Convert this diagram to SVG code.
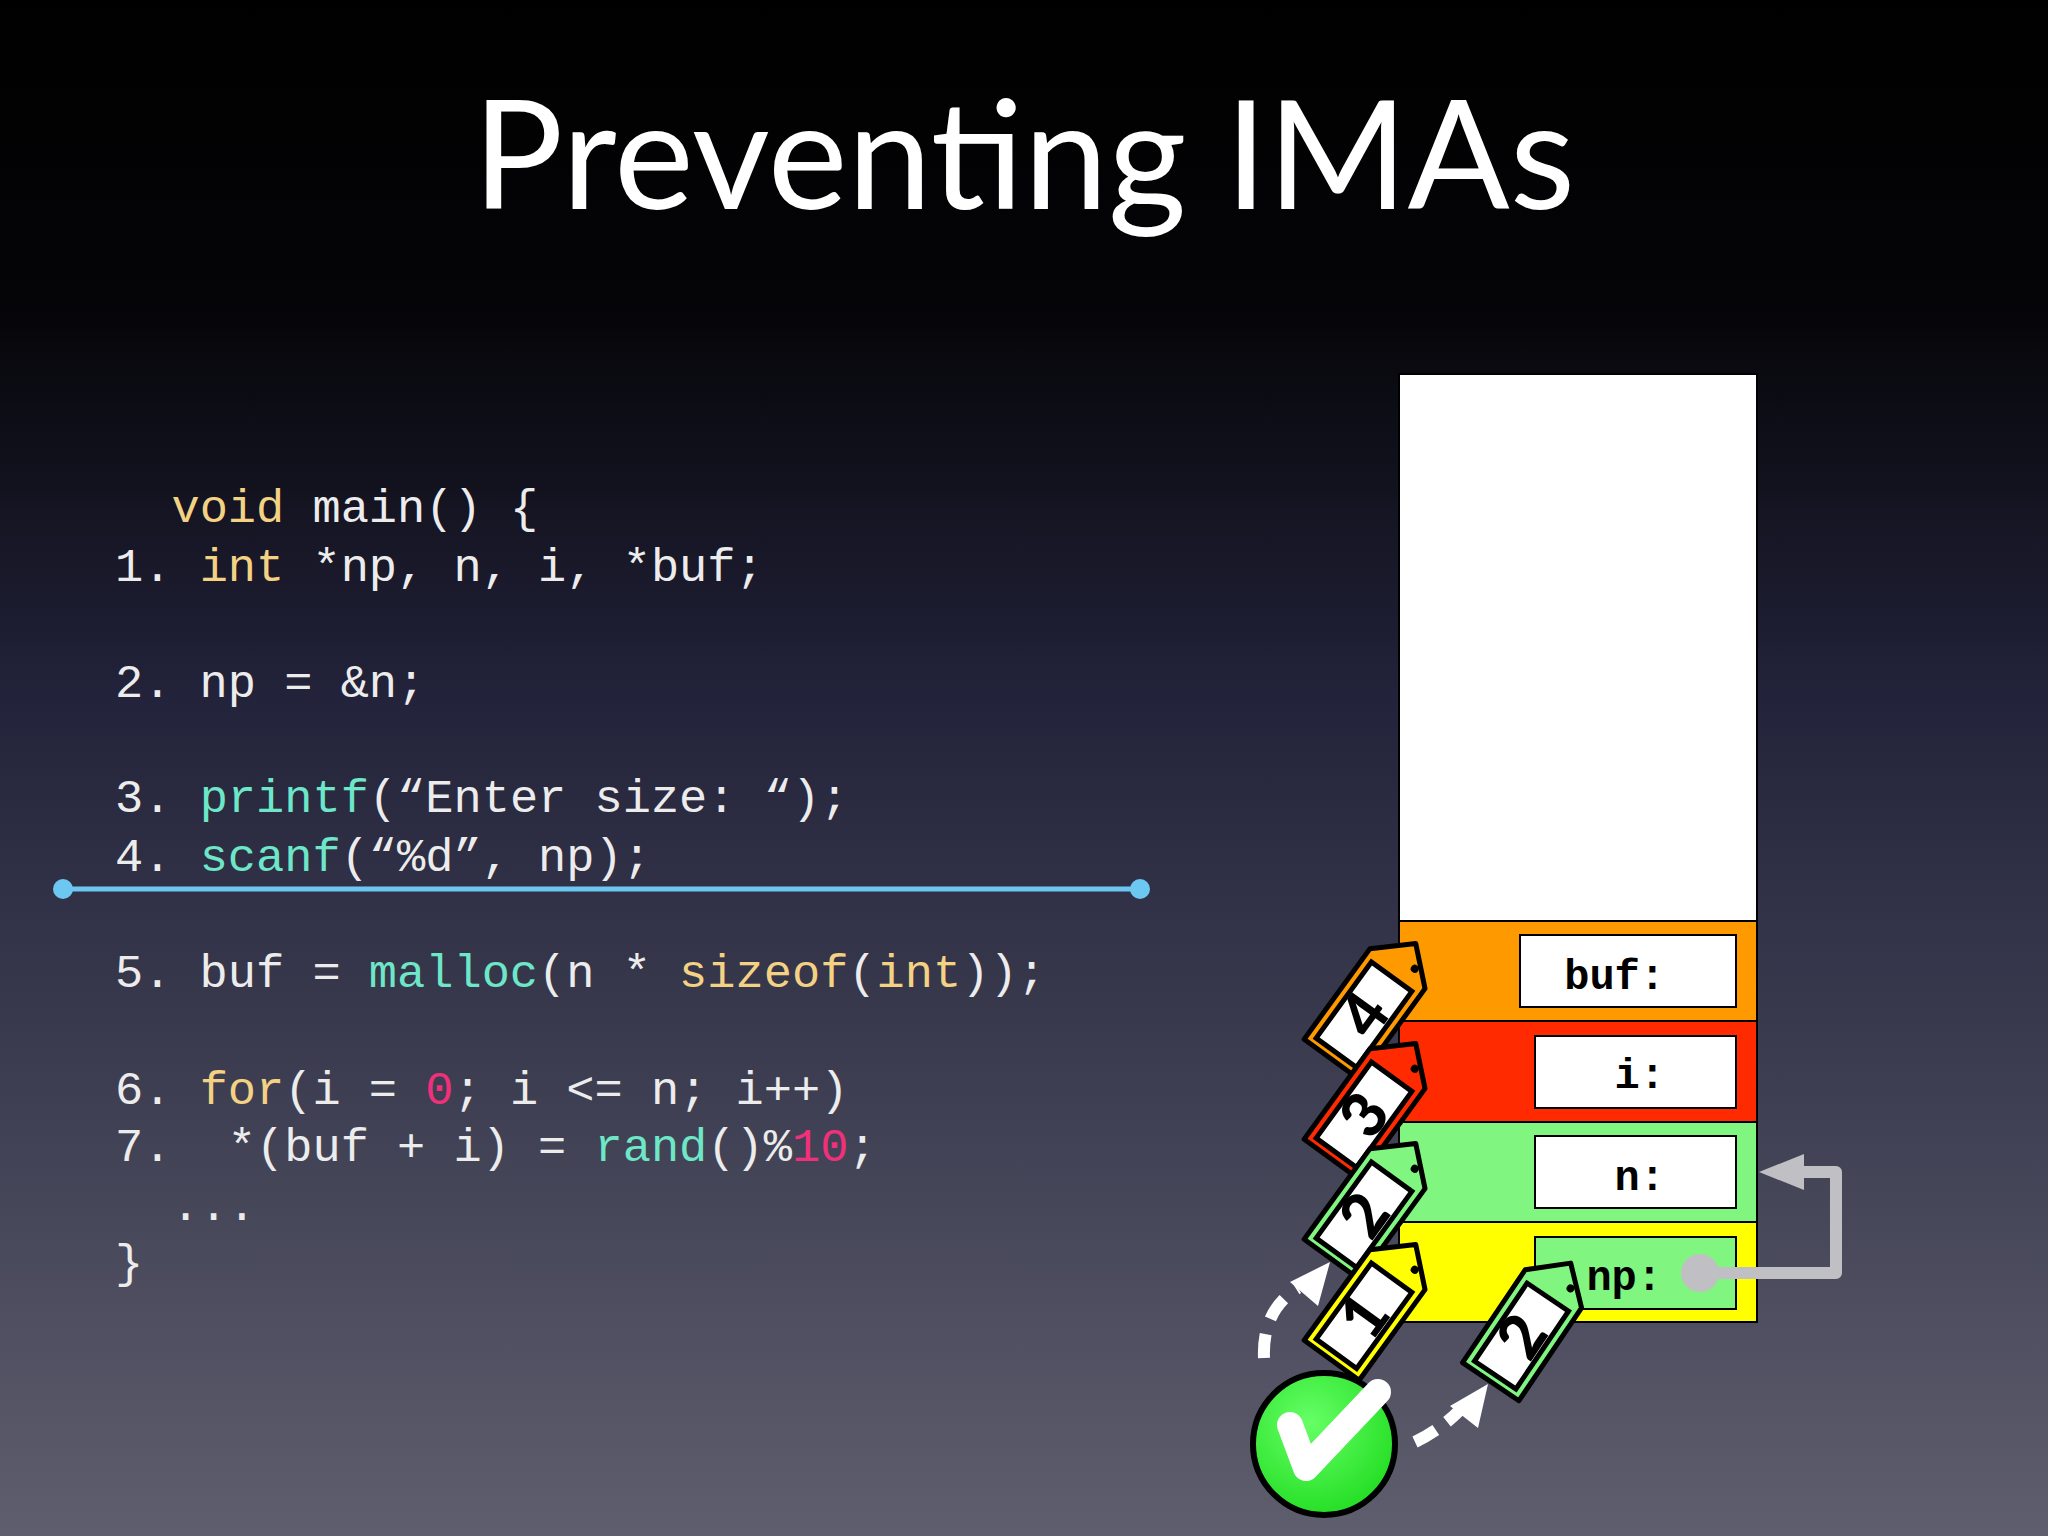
<svg xmlns="http://www.w3.org/2000/svg" width="2048" height="1536" viewBox="0 0 2048 1536">
<defs>
<linearGradient id="bg" x1="0" y1="0" x2="0" y2="1">
<stop offset="0" stop-color="#000"/><stop offset="0.2" stop-color="#050508"/><stop offset="0.45" stop-color="#22223a"/><stop offset="1" stop-color="#5e5e6e"/>
</linearGradient>
<radialGradient id="gr" cx="0.4" cy="0.35" r="0.7"><stop offset="0" stop-color="#66ff66"/><stop offset="1" stop-color="#22dd22"/></radialGradient>
<g id="tagshape">
<polygon points="-34,72 34,72 34,-40 0,-71 -34,-40" stroke="#000" stroke-width="5" stroke-linejoin="round"/>
<rect x="-25" y="-30" width="50" height="94" fill="#fff" stroke="#000" stroke-width="5"/>
<circle cx="14" cy="-50" r="4" fill="#000"/>
</g>
</defs>
<style>
.code{font-family:"Liberation Mono",monospace;font-size:47px;fill:#ececec;white-space:pre}
.k{fill:#f3d283}.f{fill:#6ee6c8}.n{fill:#f0307a}
.lbl{font-family:"Liberation Mono",monospace;font-weight:bold;font-size:42px;fill:#000;text-anchor:end}
.num{font-family:"Lato","DejaVu Sans",sans-serif;font-weight:900;font-size:62px;fill:#000;text-anchor:middle}
.box{stroke:#000;stroke-width:2}
</style>
<rect width="2048" height="1536" fill="url(#bg)"/>
<text x="1024" y="209" font-family="Lato,'Open Sans',sans-serif" font-size="151" fill="#fff" text-anchor="middle">Preventing IMAs</text>

<g id="code">
<text class="code" x="115" y="522" xml:space="preserve">  <tspan class="k">void</tspan> main() {</text>
<text class="code" x="115" y="581" xml:space="preserve">1. <tspan class="k">int</tspan> *np, n, i, *buf;</text>
<text class="code" x="115" y="697" xml:space="preserve">2. np = &amp;n;</text>
<text class="code" x="115" y="812" xml:space="preserve">3. <tspan class="f">printf</tspan>(“Enter size: “);</text>
<text class="code" x="115" y="871" xml:space="preserve">4. <tspan class="f">scanf</tspan>(“%d”, np);</text>
<text class="code" x="115" y="987" xml:space="preserve">5. buf = <tspan class="f">malloc</tspan>(n * <tspan class="k">sizeof</tspan>(<tspan class="k">int</tspan>));</text>
<text class="code" x="115" y="1104" xml:space="preserve">6. <tspan class="k">for</tspan>(i = <tspan class="n">0</tspan>; i &lt;= n; i++)</text>
<text class="code" x="115" y="1161" xml:space="preserve">7.  *(buf + i) = <tspan class="f">rand</tspan>()%<tspan class="n">10</tspan>;</text>
<text class="code" x="115" y="1220" xml:space="preserve">  ...</text>
<text class="code" x="115" y="1277" xml:space="preserve">}</text>
</g>

<g id="divider">
<line x1="63" y1="889" x2="1140" y2="889" stroke="#6cc8f0" stroke-width="5"/>
<circle cx="63" cy="889" r="10" fill="#6cc8f0"/><circle cx="1140" cy="889" r="10" fill="#6cc8f0"/>
</g>

<g id="stack">
<rect x="1399" y="374" width="358" height="547" fill="#fff" class="box"/>
<rect x="1399" y="921" width="358" height="100" fill="#ff9900" class="box"/>
<rect x="1399" y="1021" width="358" height="101" fill="#ff2a00" class="box"/>
<rect x="1399" y="1122" width="358" height="100" fill="#80f580" class="box"/>
<rect x="1399" y="1222" width="358" height="100" fill="#ffff00" class="box"/>
<rect x="1520" y="935" width="216" height="72" fill="#fff" class="box"/>
<rect x="1535" y="1036" width="201" height="72" fill="#fff" class="box"/>
<rect x="1535" y="1136" width="201" height="72" fill="#fff" class="box"/>
<rect x="1535" y="1237" width="201" height="72" fill="#80f580" class="box"/>
<text class="lbl" x="1665" y="989">buf:</text>
<text class="lbl" x="1665" y="1088">i:</text>
<text class="lbl" x="1665" y="1190">n:</text>
<text class="lbl" x="1662" y="1290">np:</text>
</g>

<g id="connectors">
<polyline points="1700,1273 1836,1273 1836,1172 1800,1172" fill="none" stroke="#c0c0c4" stroke-width="12" stroke-linejoin="round"/>
<polygon points="1759,1172 1804,1154 1804,1190" fill="#c0c0c4"/>
<circle cx="1700" cy="1273" r="19" fill="#c0c0c4"/>
<path d="M1264,1358 Q1262,1310 1298,1288" fill="none" stroke="#fff" stroke-width="12" stroke-dasharray="24,16"/>
<polygon points="1330,1262 1318,1306 1290,1282" fill="#fff"/>
<path d="M1415,1442 Q1440,1430 1460,1410" fill="none" stroke="#fff" stroke-width="12" stroke-dasharray="24,14"/>
<polygon points="1488,1384 1478,1428 1450,1406" fill="#fff"/>
</g>

<g id="tag4" transform="translate(1374,1001) rotate(36)"><use href="#tagshape" fill="#ff9900"/><text class="num" transform="translate(0,17) rotate(-90)" y="22">4</text></g>
<g id="tag3" transform="translate(1374,1101) rotate(36)"><use href="#tagshape" fill="#ff2a00"/><text class="num" transform="translate(0,17) rotate(-90)" y="22">3</text></g>
<g id="tag2" transform="translate(1374,1201) rotate(36)"><use href="#tagshape" fill="#80f580"/><text class="num" transform="translate(0,17) rotate(-90)" y="22">2</text></g>
<g id="tag1" transform="translate(1374,1302) rotate(36)"><use href="#tagshape" fill="#ffff00"/><text class="num" transform="translate(0,17) rotate(-90)" y="22">1</text></g>
<g id="tag2b" transform="translate(1531,1322) rotate(34)"><use href="#tagshape" fill="#80f580"/><text class="num" transform="translate(0,17) rotate(-90)" y="22">2</text></g>

<g id="check">
<circle cx="1324" cy="1444" r="71" fill="url(#gr)" stroke="#000" stroke-width="6"/>
<polyline points="1290,1425 1306,1468 1378,1392" fill="none" stroke="#fff" stroke-width="26" stroke-linecap="round" stroke-linejoin="round"/>
</g>
</svg>
